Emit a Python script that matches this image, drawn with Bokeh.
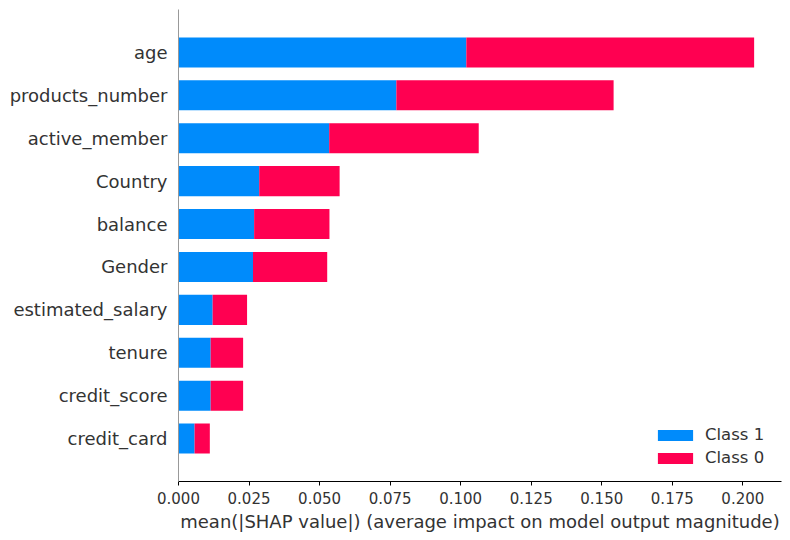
from bokeh.plotting import figure
from bokeh.models import ColumnDataSource, FactorRange, Range1d, FixedTicker, Legend, LegendItem, CustomJSTickFormatter
from bokeh.embed import file_html
from bokeh.resources import INLINE

features = ["age", "products_number", "active_member", "Country", "balance",
            "Gender", "estimated_salary", "tenure", "credit_score", "credit_card"]
class1 = [0.1020, 0.0772, 0.0534, 0.0286, 0.0268, 0.0264, 0.0121, 0.0114, 0.0114, 0.0057]
class0 = [0.1020, 0.0770, 0.0530, 0.0285, 0.0267, 0.0263, 0.0122, 0.0115, 0.0115, 0.0054]
x_ticks = [0.0, 0.025, 0.05, 0.075, 0.1, 0.125, 0.15, 0.175, 0.2]
x_label = "mean(|SHAP value|) (average impact on model output magnitude)"

BLUE = "#008bfb"
RED = "#ff0051"
FONT = "DejaVu Sans"

order = list(reversed(features))
source = ColumnDataSource(dict(feature=features, class1=class1, class0=class0))

p = figure(frame_width=603, frame_height=472, output_backend="svg", toolbar_location=None,
           y_range=FactorRange(factors=order, range_padding=0.5, range_padding_units="absolute"),
           x_range=Range1d(0, 0.2137),
           min_border_left=178, min_border_right=1, min_border_top=9, min_border_bottom=48)

rs = p.hbar_stack(["class1", "class0"], y="feature", height=0.7, color=[BLUE, RED],
                  line_color=None, source=source)

p.outline_line_color = None
p.grid.grid_line_color = None
p.background_fill_color = "white"
p.border_fill_color = "white"

xa = p.xaxis[0]
xa.ticker = FixedTicker(ticks=x_ticks)
xa.formatter = CustomJSTickFormatter(code="return tick.toFixed(3);")
xa.axis_line_color = "black"
xa.axis_line_width = 1.2
xa.major_tick_line_color = "black"
xa.major_tick_out = 4
xa.major_tick_in = 0
xa.minor_tick_line_color = None
xa.major_label_text_font = FONT
xa.major_label_text_font_size = "15px"
xa.major_label_text_color = "#333333"
xa.major_label_standoff = 6
xa.axis_label = x_label
xa.axis_label_text_font = FONT
xa.axis_label_text_font_size = "18px"
xa.axis_label_text_font_style = "normal"
xa.axis_label_text_color = "#333333"
xa.axis_label_standoff = 4

ya = p.yaxis[0]
ya.axis_line_color = "#999999"
ya.major_tick_line_color = None
ya.minor_tick_line_color = None
ya.major_tick_out = 0
ya.major_tick_in = 0
ya.minor_tick_out = 0
ya.major_label_text_font = FONT
ya.major_label_text_font_size = "18px"
ya.major_label_text_color = "#333333"
ya.major_label_standoff = 11

legend = Legend(items=[LegendItem(label="Class 1", renderers=[rs[0]]),
                       LegendItem(label="Class 0", renderers=[rs[1]])],
                location=(475, 14))
legend.border_line_color = None
legend.background_fill_alpha = 0
legend.label_text_font = FONT
legend.label_text_font_size = "16.5px"
legend.label_text_color = "#333333"
legend.glyph_width = 44
legend.glyph_height = 14
legend.label_height = 19
legend.label_standoff = 8
legend.spacing = 4
legend.padding = 0
legend.margin = 0
p.add_layout(legend)

open("out.html", "w").write(file_html(p, INLINE))
